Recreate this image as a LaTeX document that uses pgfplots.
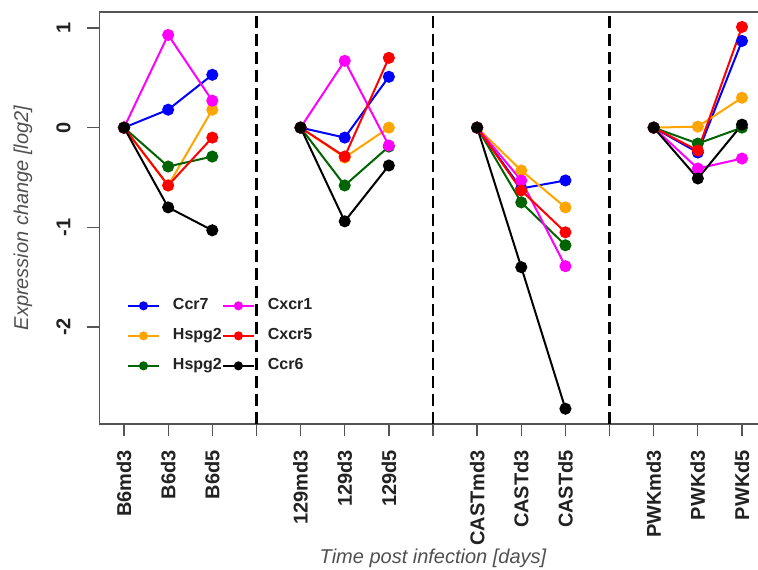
\documentclass[border=0pt]{standalone}
\usepackage{pgfplots}
\pgfplotsset{compat=1.18}
\usepackage{fontspec}
\setmainfont{Liberation Sans}
\definecolor{cblue}{HTML}{0000FF}
\definecolor{corange}{HTML}{FFA500}
\definecolor{cgreen}{HTML}{006400}
\definecolor{cmag}{HTML}{FF00FF}
\definecolor{cred}{HTML}{FF0000}
\definecolor{axgray}{HTML}{555555}
\definecolor{txtgray}{HTML}{222222}
\definecolor{labgray}{HTML}{505050}
\begin{document}
\begin{tikzpicture}
\begin{axis}[
  name=ax,
  scale only axis,
  width=667.4pt, height=412pt,
  xmin=0.44, xmax=15.56,
  ymin=-2.973, ymax=1.16,
  axis x line*=box, axis y line*=left,
  axis line style={axgray, line width=1.3pt},
  tick style={axgray, line width=1.3pt},
  tick align=outside,
  major tick length=12pt,
  xtick pos=lower, ytick pos=lower,
  xtick={1,...,15},
  xticklabels={B6md3,B6d3,B6d5,,129md3,129d3,129d5,,CASTmd3,CASTd3,CASTd5,,PWKmd3,PWKd3,PWKd5},
  ytick={-2,-1,0,1},
  yticklabels={-2,-1,0,1},
  xticklabel style={font=\fontsize{20}{24}\selectfont\bfseries, text=txtgray, inner sep=0pt, yshift=-14pt, rotate=90, anchor=east},
  yticklabel style={font=\fontsize{20}{24}\selectfont\bfseries, text=txtgray, inner sep=0pt, xshift=-17pt, rotate=90, anchor=base},
  xlabel={Time post infection [days]},
  ylabel={Expression change [log2]},
  every axis x label/.style={at={(axis description cs:0.5,-0.3374)}, anchor=base, font=\fontsize{20}{24}\selectfont\itshape, text=labgray},
  every axis y label/.style={at={(axis description cs:-0.1068,0.5)}, rotate=90, anchor=base, font=\fontsize{20}{24}\selectfont\itshape, text=labgray},
  unbounded coords=jump,
  clip=false,
  legend columns=2,
  legend cell align=left,
  legend image code/.code={\draw[mark repeat=2,mark phase=2,#1] plot coordinates {(0pt,0pt) (15.5pt,0pt) (31pt,0pt)};},
  legend style={at={(axis description cs:0.0415,0.305)}, anchor=north west, draw=none, fill=none, inner sep=0pt, outer sep=0pt,
    font=\fontsize{16}{19}\selectfont\bfseries, text=txtgray, row sep=15pt,
    nodes={inner sep=0pt, text height=11.5pt, text depth=3.5pt},
    /tikz/every odd column/.append style={column sep=13pt},
    /tikz/every even column/.append style={column sep=0pt}},
  every axis plot/.append style={line width=2pt, mark=*, mark size=5pt},
]
% legend (order matches reference layout)
\addlegendimage{cblue, line width=2pt, mark=*, mark size=3.5pt}
\addlegendentry{Ccr7}
\addlegendimage{cmag, line width=2pt, mark=*, mark size=3.5pt}
\addlegendentry{Cxcr1}
\addlegendimage{corange, line width=2pt, mark=*, mark size=3.5pt}
\addlegendentry{Hspg2}
\addlegendimage{cred, line width=2pt, mark=*, mark size=3.5pt}
\addlegendentry{Cxcr5}
\addlegendimage{cgreen, line width=2pt, mark=*, mark size=3.5pt}
\addlegendentry{Hspg2}
\addlegendimage{black, line width=2pt, mark=*, mark size=3.5pt}
\addlegendentry{Ccr6}
% separators
\addplot[forget plot, no marks, black, line width=2.2pt, dash pattern=on 12pt off 6pt] coordinates {(4,-2.973) (4,1.16)};
\addplot[forget plot, no marks, black, line width=2.2pt, dash pattern=on 12pt off 6pt] coordinates {(8,-2.973) (8,1.16)};
\addplot[forget plot, no marks, black, line width=2.2pt, dash pattern=on 12pt off 6pt] coordinates {(12,-2.973) (12,1.16)};
% Ccr7
\addplot[forget plot, cblue] coordinates {(1,0) (2,0.18) (3,0.53) (4,nan) (5,0) (6,-0.10) (7,0.51) (8,nan) (9,0) (10,-0.61) (11,-0.53) (12,nan) (13,0) (14,-0.25) (15,0.87)};
% Hspg2 orange
\addplot[forget plot, corange] coordinates {(1,0) (2,-0.58) (3,0.18) (4,nan) (5,0) (6,-0.30) (7,0.00) (8,nan) (9,0) (10,-0.43) (11,-0.80) (12,nan) (13,0) (14,0.01) (15,0.30)};
% Hspg2 green
\addplot[forget plot, cgreen] coordinates {(1,0) (2,-0.39) (3,-0.29) (4,nan) (5,0) (6,-0.58) (7,-0.19) (8,nan) (9,0) (10,-0.75) (11,-1.18) (12,nan) (13,0) (14,-0.16) (15,0.00)};
% Cxcr1
\addplot[forget plot, cmag] coordinates {(1,0) (2,0.93) (3,0.27) (4,nan) (5,0) (6,0.67) (7,-0.18) (8,nan) (9,0) (10,-0.53) (11,-1.39) (12,nan) (13,0) (14,-0.41) (15,-0.31)};
% Cxcr5
\addplot[forget plot, cred] coordinates {(1,0) (2,-0.58) (3,-0.10) (4,nan) (5,0) (6,-0.29) (7,0.70) (8,nan) (9,0) (10,-0.63) (11,-1.05) (12,nan) (13,0) (14,-0.23) (15,1.01)};
% Ccr6
\addplot[forget plot, black] coordinates {(1,0) (2,-0.80) (3,-1.03) (4,nan) (5,0) (6,-0.94) (7,-0.38) (8,nan) (9,0) (10,-1.40) (11,-2.82) (12,nan) (13,0) (14,-0.51) (15,0.03)};
\end{axis}
\pgfresetboundingbox
\path ([shift={(-99.3pt,-146pt)}]ax.south west) rectangle ([shift={(658.7pt,424pt)}]ax.south west);
\end{tikzpicture}
\end{document}
